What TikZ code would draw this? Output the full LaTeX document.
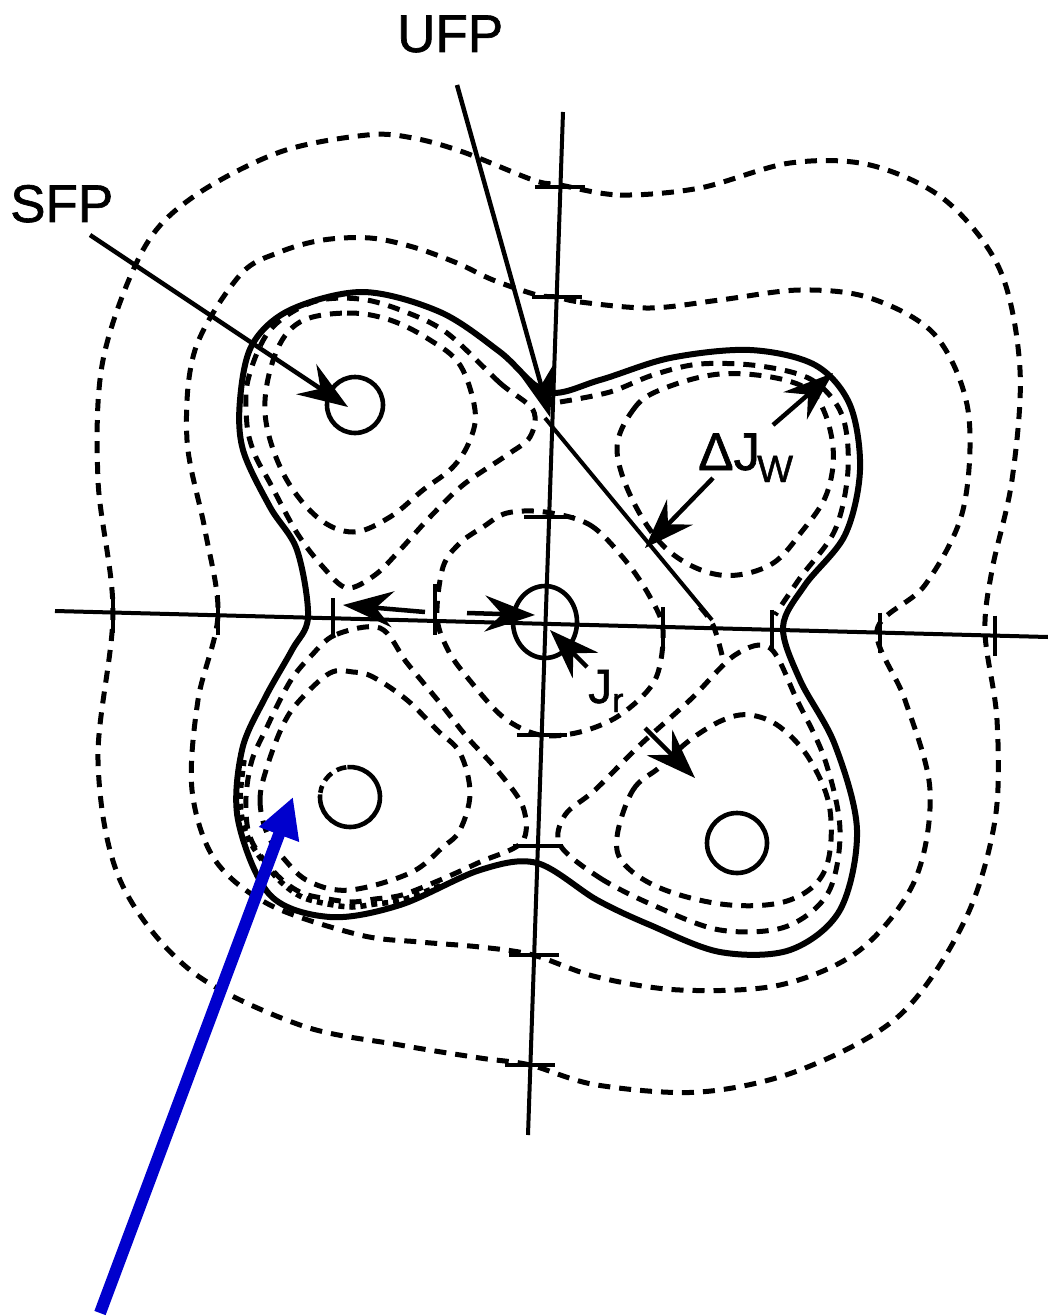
\documentclass[tikz,border=0pt]{standalone}
\usepackage{fontspec}
\setmainfont{Liberation Sans}
\newfontfamily\lblfont[FakeBold=1.2]{Liberation Sans}
\usetikzlibrary{arrows.meta,shapes.geometric}
\definecolor{arrowblue}{RGB}{0,0,205}
\begin{document}
\begin{tikzpicture}[x=1pt,y=-1pt,
  axisline/.style={line width=4pt},
  sepline/.style={line width=6pt},
  dsh/.style={line width=5pt, dash pattern=on 12pt off 9pt},
  dotline/.style={line width=5.5pt, dash pattern=on 6pt off 5pt},
  ticks/.style={line width=4.5pt},
  arr/.style={line width=4.5pt, -{Stealth[length=50pt,width=36pt,inset=17pt]}},
  lbl/.style={inner sep=0pt, anchor=base west, font=\lblfont\fontsize{53}{60}\selectfont},
  sublbl/.style={inner sep=0pt, anchor=base west, font=\lblfont\fontsize{38}{44}\selectfont},
  bluearr/.style={line width=12pt, draw=arrowblue, -{Triangle[length=40pt,width=40pt]}}
]
\useasboundingbox (0,0) rectangle (1048,1316);

% axes
\coordinate (hL) at (55,611);
\coordinate (hR) at (1048,637);
\coordinate (vT) at (563,112);
\coordinate (vB) at (528,1135);
\draw[axisline] (hL) -- (hR);
\draw[axisline] (vT) -- (vB);

% ticks on horizontal axis
\foreach \x/\y in {113/612.5,218/615.3,333/618.3,663/627,772/629.8,880/632.6,995/635.6}
  \draw[ticks] (\x,\y-20) -- (\x,\y+20);
\draw[ticks] (435,584) -- (435,635);
% ticks on vertical axis
\foreach \x/\y in {560.4/187,556.7/297,549.1/517,541.7/735,537.9/846,534.2/955,530.4/1065}
  \draw[ticks] (\x-25,\y) -- (\x+25,\y);

% outer dashed contour
\draw[dsh] plot[smooth cycle, tension=0.55] coordinates {(560,185)(620,195)(700,188)(790,163)(870,165)(945,200)(1000,270)(1020,370)(1012,480)(992,570)(985,633)(997,720)(995,820)(965,920)(900,1015)(800,1070)(700,1092)(597,1085)(530,1065)(480,1058)(400,1045)(300,1025)(190,970)(120,880)(98,760)(113,612)(98,480)(103,360)(143,250)(193,197)(280,152)(367,135)(413,138)(463,152)(533,180)};

% second dashed contour
\draw[dsh] plot[smooth cycle, tension=0.55] coordinates {(557,297)(580,302)(650,308)(720,300)(800,290)(870,298)(935,335)(968,410)(963,510)(925,585)(877,630)(905,700)(930,790)(915,880)(860,950)(780,985)(680,990)(597,977)(533,955)(480,947)(420,942)(360,935)(270,905)(215,860)(192,790)(198,700)(218,615)(205,530)(187,440)(195,350)(240,275)(280,252)(323,240)(370,238)(413,247)(457,263)(493,280)(537,295)};

% separatrix (solid)
\draw[sepline] plot[smooth cycle, tension=0.55] coordinates {(547,392)(600,380)(670,358)(750,350)(815,365)(850,405)(860,470)(845,535)(805,585)(783,627)(800,680)(835,745)(857,830)(840,910)(790,950)(720,952)(650,925)(597,900)(537,863)(480,870)(400,905)(330,917)(270,895)(238,820)(242,750)(265,698)(292,650)(308,617)(297,550)(270,507)(243,450)(240,400)(252,345)(290,310)(363,292)(440,312)(500,352)};

% central dashed contour
\draw[dsh] plot[smooth cycle, tension=0.55] coordinates {(545,512)(590,525)(625,560)(650,597)(663,630)(655,680)(620,715)(580,732)(540,735)(503,717)(467,677)(448,650)(437,617)(443,567)(460,543)(483,527)(507,513)};

% top-left island
\draw[dsh] plot[smooth cycle, tension=0.55] coordinates {(533,410)(500,383)(447,333)(403,311)(360,299)(313,302)(270,330)(248,380)(247,425)(255,455)(270,483)(297,533)(323,567)(347,588)(375,575)(400,550)(430,517)(463,485)(507,455)(530,437)};
\draw[dsh] plot[smooth cycle, tension=0.6] coordinates {(300,322)(347,313)(390,320)(430,340)(460,365)(475,410)(470,440)(453,467)(423,490)(390,517)(353,532)(317,517)(283,473)(265,413)(275,355)};

% top-right island
\draw[dsh] plot[smooth, tension=0.55] coordinates {(560,402)(610,392)(653,375)(700,364)(760,366)(812,380)(842,415)(848,470)(835,530)(800,578)(775,615)};
\draw[dsh] plot[smooth cycle, tension=0.6] coordinates {(617,450)(633,410)(660,390)(720,374)(785,380)(818,400)(833,447)(827,493)(803,530)(770,565)(720,575)(670,552)(635,505)};
\coordinate (tlA) at (545,418);
\coordinate (tlB) at (712,620);
\draw[line width=4pt] (tlA) -- (tlB);
\draw[dsh] plot[smooth, tension=0.6] coordinates {(700,607)(713,625)(722,655)};

% bottom-right island
\draw[dsh] plot[smooth cycle, tension=0.55] coordinates {(560,845)(600,878)(655,906)(720,930)(785,927)(828,893)(840,830)(825,760)(797,700)(770,648)(735,655)(690,700)(640,745)(595,790)(565,815)};
\draw[dsh] plot[smooth cycle, tension=0.6] coordinates {(617,837)(633,790)(660,767)(690,740)(723,720)(750,715)(780,727)(810,760)(830,810)(825,870)(790,900)(730,905)(665,890)(625,865)};

% bottom-left island
\draw[dsh] plot[smooth cycle, tension=0.55] coordinates {(380,628)(335,635)(310,657)(293,677)(280,700)(267,727)(252,760)(246,797)(248,830)(258,852)(280,878)(302,893)(328,899)(352,902)(375,899)(402,895)(440,880)(480,862)(522,842)(523,807)(497,770)(467,737)(440,703)(407,663)};
\draw[dotline] plot[smooth, tension=0.55] coordinates {(244,760)(240,800)(245,830)(257,853)(280,881)(302,897)(328,904)(352,907)(375,904)(402,900)(442,885)};
\draw[dsh] plot[smooth cycle, tension=0.6] coordinates {(267,767)(260,800)(267,833)(285,860)(310,882)(350,890)(410,873)(443,847)(460,830)(470,793)(460,753)(437,730)(407,700)(373,677)(353,672)(330,673)(300,700)(283,725)};

% fixed point circles
\node[circle, draw, line width=4.6pt, minimum size=56pt, inner sep=0pt] (sfpc) at (355,405) {};
\node[circle, draw, line width=4.6pt, minimum size=60pt, inner sep=0pt] (brc) at (737,843) {};
\coordinate (blc) at (350,797);
\draw[line width=4.6pt] ([shift={(175:30pt)}]blc) arc[start angle=175, end angle=455, radius=30pt];
\draw[line width=4.6pt, dash pattern=on 10pt off 6pt] ([shift={(97:30pt)}]blc) arc[start angle=97, end angle=172, radius=30pt];
\node[ellipse, draw, line width=4.6pt, minimum width=64pt, minimum height=72pt, inner sep=0pt] (cc) at (545,622) {};

% labels
\node[lbl] (ufp) at (397,52) {UFP};
\node[lbl] (sfp) at (10,222) {SFP};
\node[lbl] (dj) at (698,470) {ΔJ};
\node[sublbl] (djw) at (757,482) {W};
\node[lbl, font=\lblfont\fontsize{48}{54}\selectfont] (jr) at (588,703) {J};
\node[sublbl, font=\lblfont\fontsize{34}{40}\selectfont] (jrs) at (612,712) {r};

% black arrows
\coordinate (sfpA) at (90,235);
\coordinate (sfpB) at (348,407);
\draw[arr] (sfpA) -- (sfpB);
\coordinate (ufpA) at (457,85);
\coordinate (ufpB) at (550,417);
\draw[arr] (ufpA) -- (ufpB);
\coordinate (dwA) at (773,425);
\coordinate (dwB) at (833,373);
\draw[arr] (dwA) -- (dwB);
\coordinate (dwC) at (713,478);
\coordinate (dwD) at (645,548);
\draw[arr] (dwC) -- (dwD);
\coordinate (jlA) at (425,612);
\coordinate (jlB) at (343,605);
\draw[arr] (jlA) -- (jlB);
\coordinate (jrA) at (467,613);
\coordinate (jrB) at (535,615);
\draw[arr] (jrA) -- (jrB);
\coordinate (jpA) at (587,667);
\coordinate (jpB) at (550,630);
\draw[arr] (jpA) -- (jpB);
\coordinate (brA) at (645,728);
\coordinate (brB) at (695,778);
\draw[arr] (brA) -- (brB);

% blue arrow
\coordinate (blueA) at (100,1313);
\coordinate (blueB) at (293,797);
\draw[bluearr] (blueA) -- (blueB);
\end{tikzpicture}
\end{document}
